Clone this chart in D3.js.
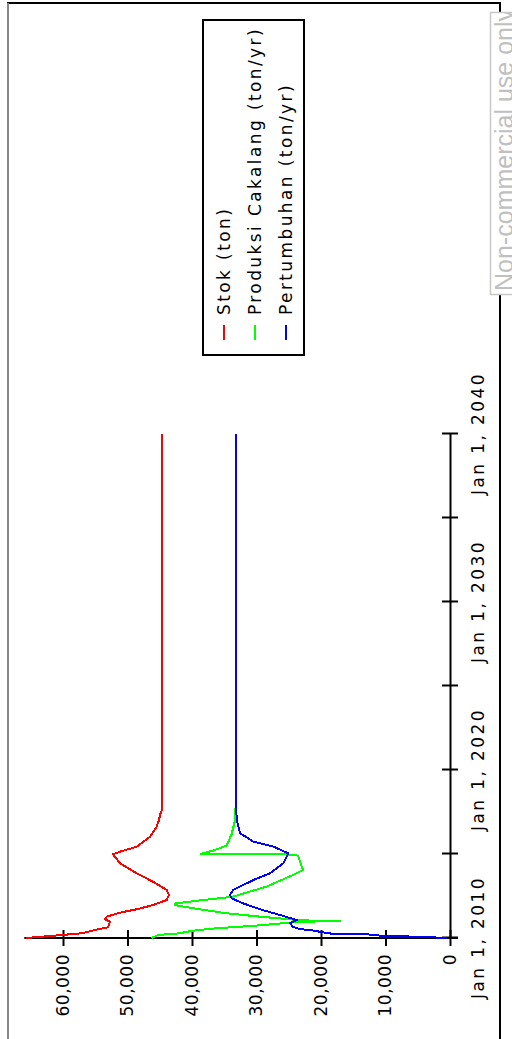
<!DOCTYPE html>
<html>
<head>
<meta charset="utf-8">
<script src="https://cdnjs.cloudflare.com/ajax/libs/d3/7.8.5/d3.min.js"></script>
<style>
  body { margin: 0; background: #fff; }
  svg { display: block; font-family: "DejaVu Sans", sans-serif; }
</style>
</head>
<body>
<svg id="chart" width="512" height="1039"></svg>
<script>
// time in years after Jan 1, 2010
const stokYears = [0, 0.18, 0.28, 0.52, 0.64, 0.97, 1.11, 1.27, 1.51, 1.71, 1.96, 2.26, 2.56, 2.86, 3.35, 3.85, 4.45, 4.98, 5.14, 5.43, 6.03, 6.63, 7.02, 7.32, 7.6, 30];
const stokValues = [65800, 60150, 57100, 54570, 53020, 52710, 53490, 53220, 51160, 48570, 46050, 43920, 43570, 43920, 46050, 48570, 51160, 52250, 51160, 48570, 46510, 45470, 45120, 44960, 44700, 44700];

const prodYears = [0, 0.18, 0.28, 0.43, 0.58, 0.71, 0.875, 0.97, 1.0, 1.05, 1.27, 1.47, 1.77, 1.96, 2.05, 2.26, 2.46, 3.06, 3.75, 4.05, 4.9, 4.97, 5.0, 5.2, 5.5, 6.2, 7.0, 8.3, 30];
const prodValues = [46250, 45270, 41900, 40000, 36200, 31000, 25900, 23300, 16900, 23000, 29460, 34620, 39840, 42640, 42640, 38290, 33640, 28420, 24340, 22790, 23570, 25100, 38760, 36740, 34620, 33840, 33330, 33200, 33200];

const growYears = [0, 0.08, 0.12, 0.22, 0.24, 0.37, 0.48, 0.52, 0.67, 0.87, 1.07, 1.37, 1.71, 2.06, 2.36, 2.56, 2.86, 3.45, 3.85, 4.45, 5.04, 5.44, 5.74, 6.24, 7.02, 8.3, 30];
const growValues = [500, 5160, 10340, 12910, 18090, 20150, 21700, 23260, 24340, 24810, 23770, 26360, 29460, 32050, 33840, 34110, 33600, 30500, 27910, 25840, 25070, 27400, 30500, 32560, 33070, 33200, 33200];

const tickYears = [2010, 2015, 2020, 2025, 2030, 2035, 2040];
const labelYears = [2010, 2020, 2030, 2040];
const valueTicks = [0, 10000, 20000, 30000, 40000, 50000, 60000];
const seriesNames = ["Stok (ton)", "Produksi Cakalang (ton/yr)", "Pertumbuhan (ton/yr)"];
const seriesColors = ["#ff0000", "#00ff00", "#0000ff"];

const start = new Date(2010, 0, 1).getTime();
const toDate = (t) => new Date(start + t * 365.25 * 864e5);

const svg = d3.select("#chart");

// the whole chart is drawn lying on its side
const g = svg.append("g").attr("transform", "translate(0,1039) rotate(-90)");

const x = d3.scaleTime()
  .domain([new Date(2010, 0, 1), new Date(2040, 0, 1)])
  .range([101, 605]);
const y = d3.scaleLinear().domain([0, 66000]).range([450, 24.3]);

const line = d3.line().x((d) => x(d[0])).y((d) => y(d[1]));

const series = [
  stokYears.map((t, i) => [toDate(t), stokValues[i]]),
  prodYears.map((t, i) => [toDate(t), prodValues[i]]),
  growYears.map((t, i) => [toDate(t), growValues[i]]),
];

// time axis
const xAxis = g.append("g")
  .attr("transform", "translate(0,450)")
  .call(d3.axisBottom(x)
    .tickValues(tickYears.map((yr) => new Date(yr, 0, 1)))
    .tickSizeOuter(0)
    .tickFormat((d) => labelYears.includes(d.getFullYear()) ? "Jan 1, " + d.getFullYear() : ""));
xAxis.select(".domain").attr("stroke", "#000").attr("stroke-width", 2);
xAxis.selectAll(".tick line").attr("y1", -8).attr("y2", 8).attr("stroke-width", 2);
xAxis.selectAll(".tick text")
  .attr("y", 34).attr("dy", null)
  .attr("font-size", 17).attr("font-family", "DejaVu Sans")
  .attr("letter-spacing", "2.4px").attr("fill", "#000");

// value axis
const yAxis = g.append("g")
  .attr("transform", "translate(101,0)")
  .call(d3.axisLeft(y).tickValues(valueTicks).tickSizeOuter(0).tickFormat(d3.format(",")));
yAxis.select(".domain")
  .attr("d", "M0," + (y(0) + 8) + "V" + y.range()[1])
  .attr("stroke", "#000").attr("stroke-width", 2);
yAxis.selectAll(".tick line").attr("x1", -8).attr("x2", 8).attr("stroke-width", 2);
yAxis.selectAll(".tick text")
  .attr("x", -16)
  .attr("font-size", 17).attr("letter-spacing", "0.5px")
  .attr("font-family", "DejaVu Sans").attr("fill", "#000");

// lines
g.append("g").selectAll("path")
  .data(series)
  .enter()
  .append("path")
  .attr("d", line)
  .attr("fill", "none")
  .attr("stroke", (d, i) => seriesColors[i])
  .attr("stroke-width", 2)
  .attr("shape-rendering", "crispEdges");

// legend
const legend = g.append("g");
legend.append("rect")
  .attr("x", 684).attr("y", 203).attr("width", 335).attr("height", 101)
  .attr("fill", "#fff").attr("stroke", "#000").attr("stroke-width", 2);
seriesNames.forEach((name, i) => {
  const base = 230 + i * 31;
  legend.append("line")
    .attr("x1", 699).attr("x2", 714).attr("y1", base - 6).attr("y2", base - 6)
    .attr("stroke", seriesColors[i]).attr("stroke-width", 2);
  legend.append("text")
    .attr("x", 724).attr("y", base)
    .attr("font-size", 17).attr("letter-spacing", "2.4px")
    .text(name);
});

// frame
svg.append("line").attr("x1", 7).attr("x2", 501).attr("y1", 3).attr("y2", 3)
  .attr("stroke", "#000").attr("stroke-width", 2);
svg.append("line").attr("x1", 8).attr("x2", 8).attr("y1", 3).attr("y2", 1039)
  .attr("stroke", "#888").attr("stroke-width", 2);
svg.append("line").attr("x1", 500).attr("x2", 500).attr("y1", 2).attr("y2", 1039)
  .attr("stroke", "#000").attr("stroke-width", 2);

// watermark, clipped by its box
svg.append("clipPath").attr("id", "wm")
  .append("rect").attr("x", 490).attr("y", 13).attr("width", 40).attr("height", 281);
svg.append("rect")
  .attr("x", 490.5).attr("y", 12.5).attr("width", 40).attr("height", 282)
  .attr("fill", "#fff").attr("stroke", "#c8c8c8").attr("stroke-width", 1.5);
svg.append("g").attr("clip-path", "url(#wm)")
  .append("text")
  .attr("transform", "translate(513,291) rotate(-90)")
  .attr("font-family", "Liberation Sans").attr("font-size", 25)
  .attr("fill", "#c0c0c0")
  .text("Non-commercial use only!");
</script>
</body>
</html>
